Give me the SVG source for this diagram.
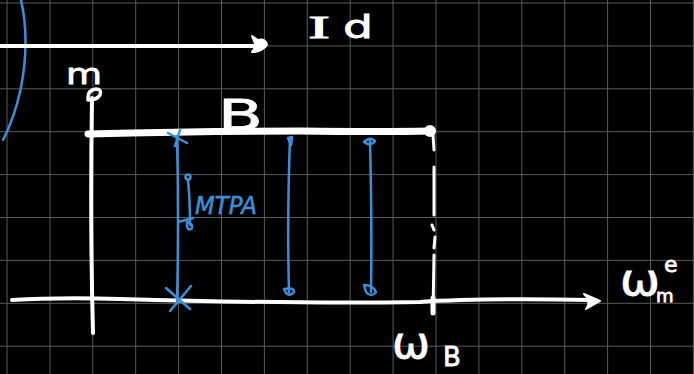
<svg xmlns="http://www.w3.org/2000/svg" width="694" height="374" viewBox="0 0 694 374">
  <style>
    .grid line { stroke: #5a5a5a; stroke-width: 1; }
    .ink { fill: none; stroke: #ffffff; stroke-linecap: round; stroke-linejoin: round; }
    .blue { fill: none; stroke: #3b8fd8; stroke-linecap: round; stroke-linejoin: round; stroke-width: 2.5; }
    .blob { fill: #ffffff; stroke: #ffffff; stroke-width: 2; stroke-linejoin: round; }
    .bblob { fill: none; stroke: #3b8fd8; stroke-width: 2.5; stroke-linejoin: round; }
    .hand { fill: #ffffff; stroke: #ffffff; stroke-width: 0.8; font-family: "DejaVu Sans", sans-serif; }
    .bhand { fill: #3b8fd8; stroke: #3b8fd8; stroke-width: 0.6; font-family: "DejaVu Sans", sans-serif; font-style: italic; }
  </style>

  <!-- background and grid -->
  <rect width="694" height="374" fill="#000000"/>
  <g class="grid">
    <line x1="7" y1="0" x2="7" y2="374"/>
    <line x1="50" y1="0" x2="50" y2="374"/>
    <line x1="92.8" y1="0" x2="92.8" y2="374"/>
    <line x1="135.7" y1="0" x2="135.7" y2="374"/>
    <line x1="178.6" y1="0" x2="178.6" y2="374"/>
    <line x1="221.5" y1="0" x2="221.5" y2="374"/>
    <line x1="264.4" y1="0" x2="264.4" y2="374"/>
    <line x1="307.3" y1="0" x2="307.3" y2="374"/>
    <line x1="350.2" y1="0" x2="350.2" y2="374"/>
    <line x1="393.1" y1="0" x2="393.1" y2="374"/>
    <line x1="436" y1="0" x2="436" y2="374"/>
    <line x1="478.9" y1="0" x2="478.9" y2="374"/>
    <line x1="521.8" y1="0" x2="521.8" y2="374"/>
    <line x1="564.7" y1="0" x2="564.7" y2="374"/>
    <line x1="607.6" y1="0" x2="607.6" y2="374"/>
    <line x1="650.5" y1="0" x2="650.5" y2="374"/>
    <line x1="693.4" y1="0" x2="693.4" y2="374"/>
    <line x1="0" y1="3" x2="694" y2="3"/>
    <line x1="0" y1="45.9" x2="694" y2="45.9"/>
    <line x1="0" y1="88.8" x2="694" y2="88.8"/>
    <line x1="0" y1="131.7" x2="694" y2="131.7"/>
    <line x1="0" y1="174.6" x2="694" y2="174.6"/>
    <line x1="0" y1="217.5" x2="694" y2="217.5"/>
    <line x1="0" y1="260.4" x2="694" y2="260.4"/>
    <line x1="0" y1="303.3" x2="694" y2="303.3"/>
    <line x1="0" y1="346.2" x2="694" y2="346.2"/>
  </g>

  <!-- current-limit arc -->
  <g id="limit-arc">
    <path class="blue" d="M21,0 C29,35 28,90 3,140"/>
  </g>

  <!-- connectors: axes and flux line -->
  <g id="connectors">
    <!-- Id axis -->
    <path class="ink" stroke-width="4" d="M0,46 L256,46"/>
    <path class="blob" d="M252,36 L256,46 L252,52 Q262,52 267,45 Q266,38 258,40 Z"/>
    <!-- m axis -->
    <path class="ink" stroke-width="4" d="M92,98 C91,160 91,260 93,333"/>
    <path class="ink" stroke-width="3.5" d="M88,98 Q88,90 96,89 Q102,89 100,95 Q97,100 88,100 Z"/>
    <!-- omega axis -->
    <path class="ink" stroke-width="4" d="M12,300 Q60,297 120,299 Q300,304 420,302 Q480,298 592,300"/>
    <path class="blob" d="M584,294 L600,301 L586,309 Q592,301 584,294 Z"/>
    <!-- base-speed dashed line -->
    <path class="ink" stroke-width="3" d="M433,135 L434,150 M434,167 L434,215 M432,225 L434,230 M435,237 L434,248 M434,255 L433,313"/>
    <path class="ink" stroke-width="5" d="M433,298 L433,313"/>
  </g>

  <!-- constant flux-linkage segment B -->
  <g id="flux-B">
    <path class="ink" stroke-width="7" d="M88,134 Q200,131 300,131 Q380,132 431,131"/>
    <circle cx="430" cy="131" r="6" fill="#ffffff"/>
  </g>

  <!-- MTPA operating line -->
  <g id="mtpa-line">
    <path class="blue" d="M177,136 Q179,220 177,303"/>
    <path class="blue" d="M168,133 L187,143 M180,130 L175,146"/>
    <path class="blue" d="M166,288 L190,309 M191,286 L170,311"/>
    <circle class="bblob" cx="188" cy="177" r="2.5"/>
    <path class="blue" d="M188,180 Q190,200 190,225"/>
    <path class="blue" d="M178,222 L193,218"/>
    <path class="bblob" d="M187,222 Q193,223 192,228 Q188,232 187,226 Z"/>
  </g>

  <!-- flux-weakening trajectories -->
  <g id="fw-line-1">
    <path class="blue" d="M290,138 Q287,220 289,292"/>
    <path class="bblob" d="M288,138 L292,137 L291,145 Z"/>
    <path class="bblob" d="M284,289 Q294,287 294,292 Q290,297 286,293 Z"/>
  </g>
  <g id="fw-line-2">
    <path class="blue" d="M370,140 Q372,220 371,292"/>
    <path class="bblob" d="M364,142 Q370,136 375,141 Q371,147 364,142 Z"/>
    <path class="bblob" d="M364,285 Q373,285 376,292 Q371,298 366,292 Z"/>
  </g>

  <!-- labels -->
  <g id="labels">
    <text class="hand" x="308" y="38" font-size="32" textLength="22" lengthAdjust="spacingAndGlyphs" style="font-family:'Liberation Serif', serif">I</text>
    <text class="hand" x="343" y="38" font-size="32" textLength="30" lengthAdjust="spacingAndGlyphs">d</text>
    <text class="hand" x="66" y="84" font-size="28" textLength="36" lengthAdjust="spacingAndGlyphs">m</text>
    <text class="hand" x="218" y="130" font-size="42" textLength="45" lengthAdjust="spacingAndGlyphs">B</text>
    <text class="bhand" x="195" y="214" font-size="24" textLength="62" lengthAdjust="spacingAndGlyphs">MTPA</text>
    <text class="hand" x="620" y="295" font-size="44" textLength="40" lengthAdjust="spacingAndGlyphs">ω</text>
    <text class="hand" x="664" y="272" font-size="22">e</text>
    <text class="hand" x="656" y="302" font-size="18">m</text>
    <text class="hand" x="392" y="358" font-size="44" textLength="38" lengthAdjust="spacingAndGlyphs">ω</text>
    <text class="hand" x="443" y="366" font-size="26">B</text>
  </g>
</svg>
